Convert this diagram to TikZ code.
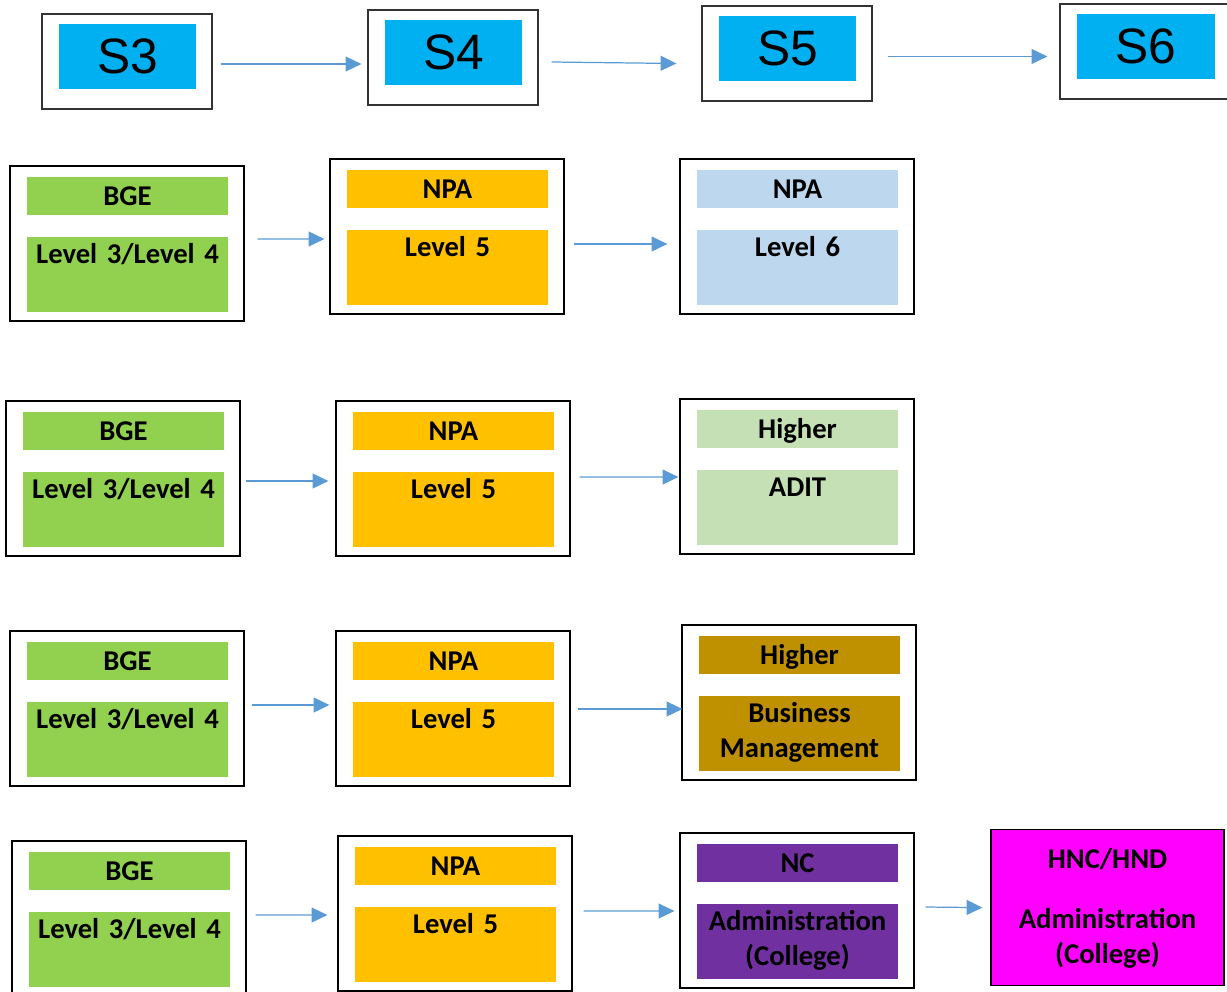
\documentclass[tikz,border=0pt]{standalone}
\usepackage{fontspec}
\setmainfont{Carlito}
\newfontfamily\arialfont{Liberation Sans}
\usetikzlibrary{arrows.meta,calc}

\definecolor{sblue}{HTML}{00B0F0}
\definecolor{bgegreen}{HTML}{92D050}
\definecolor{npaorange}{HTML}{FFC000}
\definecolor{paleblue}{HTML}{BDD7EE}
\definecolor{palegreen}{HTML}{C5E0B4}
\definecolor{gold}{HTML}{BF9000}
\definecolor{ncpurple}{HTML}{7030A0}
\definecolor{hncmagenta}{HTML}{FF00FF}
\definecolor{flowblue}{HTML}{5B9BD5}

\newcommand\lbl{\bfseries\fontsize{16.3}{19.8}\selectfont\spaceskip=0.2em\relax}

% one stage: outer frame, heading bar, course bar
% #1 name, #2 left, #3 top, #4 colour, #5 heading, #6 course
\newcommand\stagebox[6]{%
  \node[outerbox] (#1) at ({#2+117},{#3+77.5}) {};
  \node[topbar, fill=#4] (#1-t) at ({#2+117.5},{#3+30}) {#5};
  \node[lowbar, fill=#4] (#1-b) at ({#2+117.5},{#3+71}) {#6};
}
% one school year: frame with a blue label bar
\newcommand\yearbox[4]{%
  \node[sbox] (#1) at ({#2+85},{#3+47.5}) {};
  \node[sbar] (#1-t) at ({#2+85.5},{#3+42.5}) {#4};
}

\begin{document}
\begin{tikzpicture}[x=0.02cm, y=-0.02cm,
  outerbox/.style={draw=black, line width=0.7pt, fill=white, inner sep=0pt,
    minimum width=4.68cm, minimum height=3.1cm},
  topbar/.style={inner sep=0pt, minimum width=4.04cm, minimum height=0.76cm,
    text height=0.36cm, text depth=0pt, font=\lbl},
  lowbar/.style={anchor=north, inner sep=0pt, text width=4.04cm, align=center,
    text height=0.52cm, text depth=0.98cm, font=\lbl},
  sbox/.style={draw=black!80, line width=0.7pt, fill=white, inner sep=0pt,
    minimum width=3.4cm, minimum height=1.9cm},
  sbar/.style={fill=sblue, inner sep=0pt, minimum width=2.76cm, minimum height=1.3cm,
    font=\arialfont\fontsize{28.3}{30}\selectfont},
  hncbox/.style={draw=black, line width=0.7pt, fill=hncmagenta, anchor=north,
    inner sep=0pt, text width=4.66cm, align=center,
    text height=0.78cm, text depth=2.34cm, font=\lbl},
  flow/.style={draw=flowblue, line width=0.7pt,
    -{Triangle[length=9pt, width=8.5pt]}}
]
\useasboundingbox (0,0) rectangle (1227,991);

% school years
\yearbox{s3}{42}{14}{S3}
\yearbox{s4}{368}{10}{S4}
\yearbox{s5}{702}{6}{S5}
\yearbox{s6}{1060}{4}{S6}
\draw[flow] ($(s3.east)+(8,2.5)$) -- ($(s4.west)+(-6,6.5)$);
\draw[flow] ($(s4.east)+(13,4.5)$) -- ($(s5.west)+(-25,10)$);
\draw[flow] ($(s5.east)+(15,3)$) -- ($(s6.west)+(-12,5)$);

% route 1: NPA Level 6
\stagebox{a1}{10}{166}{bgegreen}{BGE}{Level 3/Level 4}
\stagebox{b1}{330}{159}{npaorange}{NPA}{Level 5}
\stagebox{c1}{680}{159}{paleblue}{NPA}{Level 6}
\draw[flow] ($(a1.east)+(13,-4.5)$) -- ($(b1.west)+(-5,2.5)$);
\draw[flow] ($(b1.east)+(9,7.5)$) -- ($(c1.west)+(-12,7.5)$);

% route 2: Higher ADIT
\stagebox{a2}{6}{401}{bgegreen}{BGE}{Level 3/Level 4}
\stagebox{b2}{336}{401}{npaorange}{NPA}{Level 5}
\stagebox{c2}{680}{399}{palegreen}{Higher}{ADIT}
\draw[flow] ($(a2.east)+(5,2.5)$) -- ($(b2.west)+(-7,2.5)$);
\draw[flow] ($(b2.east)+(9,-1.5)$) -- ($(c2.west)+(-1,0.5)$);

% route 3: Higher Business Management
\stagebox{a3}{10}{631}{bgegreen}{BGE}{Level 3/Level 4}
\stagebox{b3}{336}{631}{npaorange}{NPA}{Level 5}
\stagebox{c3}{682}{625}{gold}{Higher}{Business\\Management}
\draw[flow] ($(a3.east)+(7,-3.5)$) -- ($(b3.west)+(-6,-3.5)$);
\draw[flow] ($(b3.east)+(7,0.5)$) -- ($(c3.west)+(1,6.5)$);

% route 4: college
\stagebox{a4}{12}{841}{bgegreen}{BGE}{Level 3/Level 4}
\stagebox{b4}{338}{836}{npaorange}{NPA}{Level 5}
\stagebox{c4}{680}{833}{ncpurple}{NC}{Administration\\(College)}
\node[hncbox] (d4) at (1107.5,829) {HNC/HND\\[0.5cm]Administration\\(College)};
\draw[flow] ($(a4.east)+(9,-3.5)$) -- ($(b4.west)+(-10,1.5)$);
\draw[flow] ($(b4.east)+(11,-2.5)$) -- ($(c4.west)+(-5,0.5)$);
\draw[flow] ($(c4.east)+(11,-3.5)$) -- ($(d4.west)+(-8,0)$);
\end{tikzpicture}
\end{document}
